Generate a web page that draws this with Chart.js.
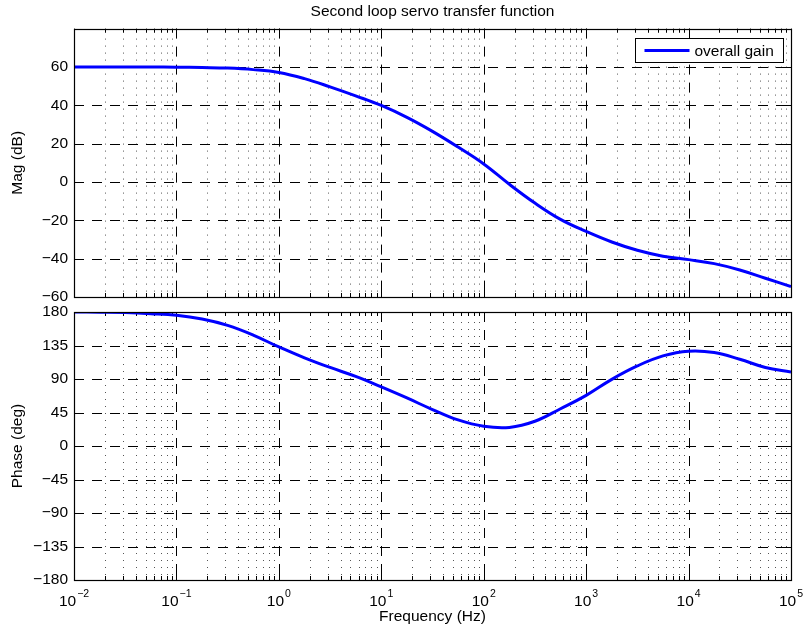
<!DOCTYPE html>
<html>
<head>
<meta charset="utf-8">
<title>Second loop servo transfer function</title>
<script src="https://cdn.jsdelivr.net/npm/chart.js@4.4.0/dist/chart.umd.min.js"></script>
<style>
  html, body { margin: 0; padding: 0; background: #fff; }
  #wrap { position: relative; width: 803px; height: 630px; }
  #wrap canvas { position: absolute; left: 0; top: 0; }
</style>
</head>
<body>
<div id="wrap">
  <canvas id="magChart" width="803" height="630"></canvas>
  <canvas id="phaseChart" width="803" height="630"></canvas>
</div>
<script>
// values, four per decade
var freqHz = [0.01, 0.0178, 0.0316, 0.0562, 0.1, 0.178, 0.316, 0.562,
              1, 1.78, 3.16, 5.62, 10, 17.8, 31.6, 56.2,
              100, 178, 316, 562, 1000, 1780, 3160, 5620,
              10000, 17800, 31600, 56200, 100000];
var magDb = [60, 60, 60, 59.95, 59.9, 59.7, 59.4, 58.6,
             57.1, 53.9, 49.6, 44.9, 39.9, 33.7, 26.4, 18.2,
             9.4, -1.2, -11, -19.5, -25.8, -31.3, -35.6, -38.7,
             -40.5, -42.6, -45.9, -50.2, -54.5];
var phaseDeg = [180, 179.7, 179.2, 177.8, 175.6, 170.5, 162, 149,
                133, 118.5, 105.5, 93.5, 79.3, 64.5, 49, 35,
                26.5, 25, 33.2, 50, 68, 89.5, 107.5, 121,
                127.3, 125.5, 116.5, 105.5, 99.4];

var magTicks = [-60, -40, -20, 0, 20, 40, 60];
var phaseTicks = [-180, -135, -90, -45, 0, 45, 90, 135, 180];
var decadeTicks = [0.01, 0.1, 1, 10, 100, 1000, 10000, 100000];
var decadeExps = ['\u22122', '\u22121', '0', '1', '2', '3', '4', '5'];

var FONT = '"Liberation Sans", Arial, Helvetica, sans-serif';
var FSIZE = 15.5;
Chart.defaults.color = '#000';
Chart.defaults.font.family = FONT;
Chart.defaults.font.size = FSIZE;

// minor decade positions 2..9 x 10^n
var minorTicks = [];
decadeTicks.slice(0, -1).forEach(function(d) {
  for (var m = 2; m <= 9; m++) minorTicks.push(m * d);
});

function pts(xs, ys) {
  return xs.map(function(x, i) { return { x: x, y: ys[i] }; });
}

function seg(ctx, x1, y1, x2, y2) {
  ctx.beginPath();
  ctx.moveTo(x1, y1);
  ctx.lineTo(x2, y2);
  ctx.stroke();
}

// matlab-like grid, inner ticks and box
var matlabAxes = {
  id: 'matlabAxes',
  beforeDatasetsDraw: function(chart, args, opts) {
    var ctx = chart.ctx, a = chart.chartArea;
    var xs = chart.scales.x, ys = chart.scales.y;
    ctx.save();
    ctx.lineWidth = 1;

    ctx.strokeStyle = '#555';
    ctx.setLineDash([1, 6]);
    minorTicks.forEach(function(v) {
      var x = Math.round(xs.getPixelForValue(v)) + 0.5;
      seg(ctx, x, a.top + 3, x, a.bottom);
    });

    ctx.strokeStyle = '#000';
    ctx.setLineDash([10, 8]);
    decadeTicks.slice(1, -1).forEach(function(v) {
      var x = Math.round(xs.getPixelForValue(v)) + 0.5;
      seg(ctx, x, a.top, x, a.bottom);
    });
    opts.yTicks.forEach(function(v) {
      if (v <= ys.min || v >= ys.max) return;
      var y = Math.round(ys.getPixelForValue(v)) + 0.5;
      seg(ctx, a.left, y, a.right, y);
    });

    ctx.setLineDash([]);
    decadeTicks.forEach(function(v) {
      var x = Math.round(xs.getPixelForValue(v)) + 0.5;
      seg(ctx, x, a.bottom, x, a.bottom - 7);
      seg(ctx, x, a.top, x, a.top + 7);
    });
    minorTicks.forEach(function(v) {
      var x = Math.round(xs.getPixelForValue(v)) + 0.5;
      seg(ctx, x, a.bottom, x, a.bottom - 4);
      seg(ctx, x, a.top, x, a.top + 4);
    });
    opts.yTicks.forEach(function(v) {
      var y = Math.round(ys.getPixelForValue(v)) + 0.5;
      seg(ctx, a.left, y, a.left + 7, y);
      seg(ctx, a.right, y, a.right - 7, y);
    });
    ctx.restore();
  },
  afterDatasetsDraw: function(chart) {
    var ctx = chart.ctx, a = chart.chartArea;
    ctx.save();
    ctx.strokeStyle = '#000';
    ctx.lineWidth = 1.2;
    ctx.strokeRect(Math.round(a.left) + 0.5, Math.round(a.top) + 0.5,
                   Math.round(a.right - a.left), Math.round(a.bottom - a.top));
    ctx.restore();
  }
};

// boxed legend in the upper right corner
var boxLegend = {
  id: 'boxLegend',
  afterDraw: function(chart) {
    var ctx = chart.ctx, a = chart.chartArea;
    var ds = chart.data.datasets[0];
    var w = 148, h = 24;
    var x = Math.round(a.right - 8 - w) + 0.5, y = Math.round(a.top + 9) + 0.5;
    ctx.save();
    ctx.fillStyle = '#fff';
    ctx.fillRect(x, y, w, h);
    ctx.strokeStyle = '#000';
    ctx.lineWidth = 1;
    ctx.strokeRect(x, y, w, h);
    ctx.strokeStyle = ds.borderColor;
    ctx.lineWidth = 3;
    seg(ctx, x + 9, y + h / 2, x + 54, y + h / 2);
    ctx.fillStyle = '#000';
    ctx.font = FSIZE + 'px ' + FONT;
    ctx.textBaseline = 'middle';
    ctx.textAlign = 'left';
    ctx.fillText(ds.label, x + 59, y + h / 2 + 1);
    ctx.restore();
  }
};

// 10^n tick labels with superscripts
var decadeLabels = {
  id: 'decadeLabels',
  afterDraw: function(chart) {
    var ctx = chart.ctx, xs = chart.scales.x, a = chart.chartArea;
    ctx.save();
    ctx.fillStyle = '#000';
    ctx.textBaseline = 'alphabetic';
    ctx.textAlign = 'left';
    decadeTicks.forEach(function(v, i) {
      var px = xs.getPixelForValue(v);
      ctx.font = FSIZE + 'px ' + FONT;
      var wb = ctx.measureText('10').width;
      ctx.font = '10.5px ' + FONT;
      var we = ctx.measureText(decadeExps[i]).width;
      var x0 = px - (wb + 1 + we) / 2;
      ctx.font = FSIZE + 'px ' + FONT;
      ctx.fillText('10', x0, a.bottom + 26);
      ctx.font = '10.5px ' + FONT;
      ctx.fillText(decadeExps[i], x0 + wb + 1, a.bottom + 17);
    });
    ctx.restore();
  }
};

function yLabel(v) {
  return String(v).replace('-', '\u2212');
}

var magChart = new Chart(document.getElementById('magChart'), {
  type: 'line',
  data: {
    datasets: [{
      label: 'overall gain',
      data: pts(freqHz, magDb),
      borderColor: '#0000ff',
      borderWidth: 3,
      pointRadius: 0,
      tension: 0.4,
      fill: false
    }]
  },
  options: {
    responsive: false,
    animation: false,
    events: [],
    layout: { padding: { top: 0, left: 0, right: 12, bottom: 333 } },
    scales: {
      x: {
        type: 'logarithmic',
        min: 0.01,
        max: 100000,
        display: false
      },
      y: {
        min: -60,
        max: 80,
        afterBuildTicks: function(s) { s.ticks = magTicks.map(function(v) { return { value: v }; }); },
        afterFit: function(s) { s.width = 74; },
        grid: { display: false, drawTicks: false },
        border: { display: false },
        ticks: { padding: 6, callback: yLabel },
        title: { display: true, text: 'Mag (dB)', padding: { top: 8, bottom: 0 } }
      }
    },
    plugins: {
      legend: { display: false },
      tooltip: { enabled: false },
      title: {
        display: true,
        fullSize: false,
        text: 'Second loop servo transfer function',
        font: { size: FSIZE, weight: 'normal' },
        padding: { top: 2, bottom: 8 }
      },
      matlabAxes: { yTicks: magTicks }
    }
  },
  plugins: [matlabAxes, boxLegend]
});

var phaseChart = new Chart(document.getElementById('phaseChart'), {
  type: 'line',
  data: {
    datasets: [{
      label: 'phase',
      data: pts(freqHz, phaseDeg),
      borderColor: '#0000ff',
      borderWidth: 3,
      pointRadius: 0,
      tension: 0.4,
      fill: false
    }]
  },
  options: {
    responsive: false,
    animation: false,
    events: [],
    layout: { padding: { top: 312, left: 0, right: 12, bottom: 0 } },
    scales: {
      x: {
        type: 'logarithmic',
        min: 0.01,
        max: 100000,
        afterFit: function(s) { s.height = 50; },
        grid: { display: false, drawTicks: false },
        border: { display: false },
        ticks: { display: false },
        title: { display: true, text: 'Frequency (Hz)', padding: { top: 0, bottom: 4 } }
      },
      y: {
        min: -180,
        max: 180,
        afterBuildTicks: function(s) { s.ticks = phaseTicks.map(function(v) { return { value: v }; }); },
        afterFit: function(s) { s.width = 74; },
        grid: { display: false, drawTicks: false },
        border: { display: false },
        ticks: { padding: 6, callback: yLabel },
        title: { display: true, text: 'Phase (deg)', padding: { top: 8, bottom: 0 } }
      }
    },
    plugins: {
      legend: { display: false },
      tooltip: { enabled: false },
      matlabAxes: { yTicks: phaseTicks }
    }
  },
  plugins: [matlabAxes, decadeLabels]
});
</script>
</body>
</html>
